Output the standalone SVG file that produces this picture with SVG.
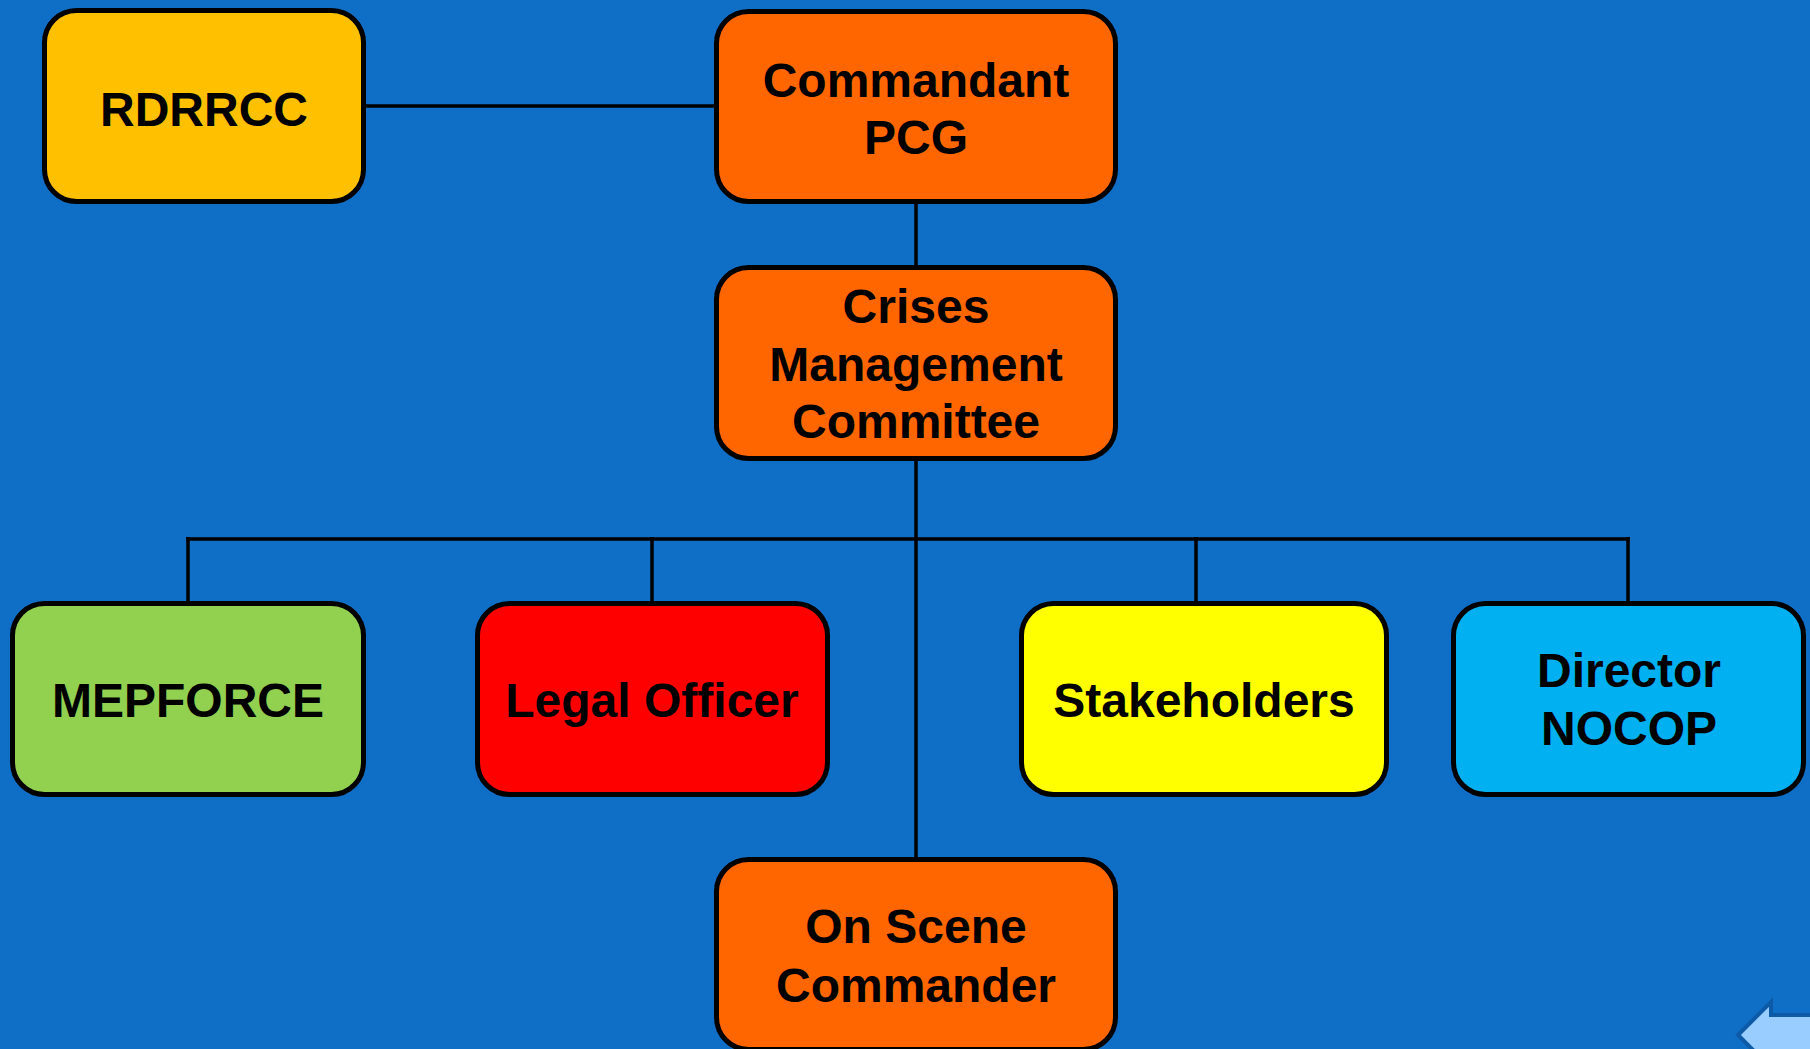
<svg xmlns="http://www.w3.org/2000/svg" width="1810" height="1049" viewBox="0 0 1810 1049">
<style>
.box{stroke:#000;stroke-width:5}
.lbl{font-family:"Liberation Sans",Arial,sans-serif;font-weight:bold;font-size:48px;fill:#000;text-anchor:middle}
.conn{stroke:#000;stroke-width:3.5;fill:none}
</style>
<rect x="0" y="0" width="1810" height="1049" fill="#0F6FC6"/>
<g id="connectors">
<line class="conn" x1="364" y1="106" x2="716" y2="106"/>
<line class="conn" x1="916" y1="204" x2="916" y2="267"/>
<line class="conn" x1="916" y1="459" x2="916" y2="859"/>
<line class="conn" x1="186" y1="539" x2="1630" y2="539"/>
<line class="conn" x1="188" y1="537" x2="188" y2="603"/>
<line class="conn" x1="652" y1="537" x2="652" y2="603"/>
<line class="conn" x1="1196" y1="537" x2="1196" y2="603"/>
<line class="conn" x1="1628" y1="537" x2="1628" y2="603"/>
</g>
<g id="rdrrcc">
<rect class="box" x="44.5" y="10.5" width="319" height="191" rx="32" fill="#FFC000"/>
<text class="lbl" x="204" y="126">RDRRCC</text>
</g>
<g id="commandant">
<rect class="box" x="716.5" y="11.5" width="399" height="190" rx="32" fill="#FF6600"/>
<text class="lbl" x="916" y="97">Commandant</text>
<text class="lbl" x="916" y="154">PCG</text>
</g>
<g id="cmc">
<rect class="box" x="716.5" y="267.5" width="399" height="191" rx="32" fill="#FF6600"/>
<text class="lbl" x="916" y="323">Crises</text>
<text class="lbl" x="916" y="381">Management</text>
<text class="lbl" x="916" y="438">Committee</text>
</g>
<g id="mepforce">
<rect class="box" x="12.5" y="603.5" width="351" height="191" rx="32" fill="#92D050"/>
<text class="lbl" x="188" y="717">MEPFORCE</text>
</g>
<g id="legal">
<rect class="box" x="477.5" y="603.5" width="350" height="191" rx="32" fill="#FF0000"/>
<text class="lbl" x="652" y="717">Legal Officer</text>
</g>
<g id="stakeholders">
<rect class="box" x="1021.5" y="603.5" width="365" height="191" rx="32" fill="#FFFF00"/>
<text class="lbl" x="1204" y="717">Stakeholders</text>
</g>
<g id="director">
<rect class="box" x="1453.5" y="603.5" width="350" height="191" rx="32" fill="#00B0F0"/>
<text class="lbl" x="1629" y="687">Director</text>
<text class="lbl" x="1629" y="745">NOCOP</text>
</g>
<g id="osc">
<rect class="box" x="716.5" y="859.5" width="399" height="190" rx="32" fill="#FF6600"/>
<text class="lbl" x="916" y="943">On Scene</text>
<text class="lbl" x="916" y="1002">Commander</text>
</g>
<polygon points="1738,1035 1771,1002 1771,1015 1830,1015 1830,1055 1771,1055 1771,1068" fill="#99CCFF" stroke="#0D5AA7" stroke-width="4" stroke-linejoin="miter"/>
</svg>
